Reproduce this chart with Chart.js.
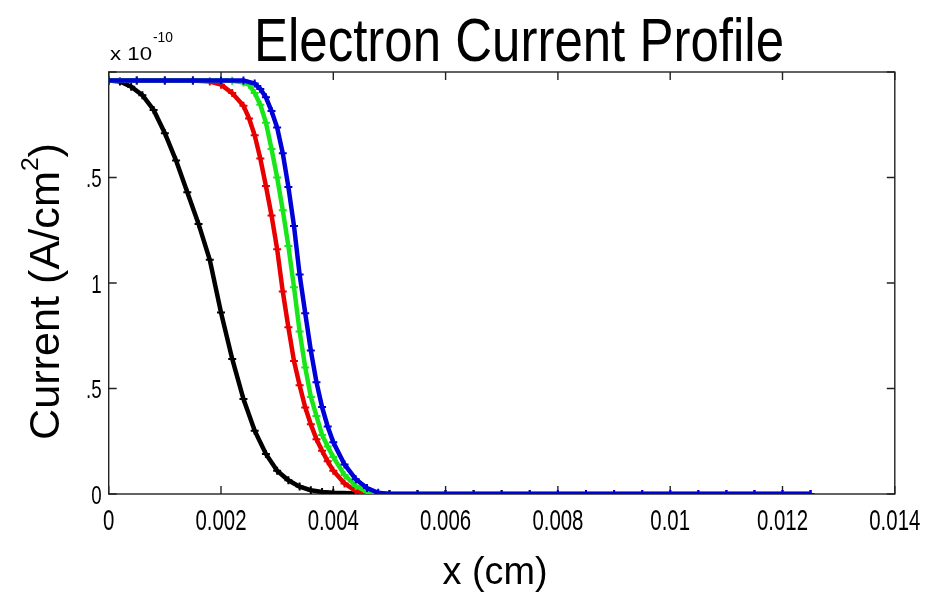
<!DOCTYPE html>
<html>
<head>
<meta charset="utf-8">
<title>Electron Current Profile</title>
<script src="https://cdn.jsdelivr.net/npm/chart.js@4.4.1/dist/chart.umd.min.js"></script>
<style>
html, body { margin:0; padding:0; background:#fff; }
canvas { display:block; }
</style>
</head>
<body>
<canvas id="currentChart" width="932" height="597"></canvas>
<script>

/* DATA (x in cm, current in units of 1e-10 A/cm^2) */

const tailX = [0.005, 0.0055, 0.006, 0.0065, 0.007, 0.0075, 0.008, 0.0085, 0.009, 0.0095, 0.01, 0.0105, 0.011, 0.0115, 0.012, 0.0125];
const tailY = [0, 0, 0, 0, 0, 0, 0, 0, 0, 0, 0, 0, 0, 0, 0, 0];

const blackX = [0, 0.0002, 0.0004, 0.0006, 0.0008, 0.001, 0.0012, 0.0014, 0.0016, 0.0018, 0.002, 0.0022, 0.0024, 0.0026, 0.0028, 0.003, 0.0032, 0.0034, 0.0036, 0.0038, 0.004, 0.0045];
const blackY = [1.96, 1.955, 1.93, 1.89, 1.82, 1.71, 1.58, 1.43, 1.28, 1.11, 0.86, 0.64, 0.45, 0.30, 0.19, 0.11, 0.065, 0.035, 0.018, 0.01, 0.006, 0.002];

const redX = [0, 0.0005, 0.001, 0.0015, 0.0018, 0.002, 0.0022, 0.0024, 0.0025, 0.0026, 0.0027, 0.0028, 0.0029, 0.003, 0.0031, 0.0032, 0.0033, 0.0034, 0.0035, 0.0036, 0.0037, 0.0038, 0.0039, 0.004, 0.0042, 0.0044, 0.0046, 0.0048];
const redY = [1.96, 1.96, 1.96, 1.96, 1.955, 1.94, 1.9, 1.84, 1.78, 1.7, 1.59, 1.46, 1.32, 1.16, 0.96, 0.79, 0.63, 0.515, 0.41, 0.33, 0.26, 0.205, 0.155, 0.11, 0.05, 0.015, 0.003, 0];

const greenX = [0, 0.0005, 0.001, 0.0015, 0.002, 0.0022, 0.0024, 0.0025, 0.0026, 0.0027, 0.0028, 0.0029, 0.003, 0.0031, 0.0032, 0.0033, 0.0034, 0.0035, 0.0036, 0.0037, 0.0038, 0.0039, 0.004, 0.0042, 0.0044, 0.0046, 0.0048];
const greenY = [1.96, 1.96, 1.96, 1.96, 1.96, 1.958, 1.95, 1.94, 1.9, 1.845, 1.76, 1.635, 1.5, 1.345, 1.175, 0.98, 0.77, 0.6, 0.46, 0.37, 0.28, 0.225, 0.175, 0.09, 0.038, 0.01, 0];

const blueX = [0, 0.0005, 0.001, 0.0015, 0.002, 0.0024, 0.0026, 0.0027, 0.0028, 0.0029, 0.003, 0.0031, 0.0032, 0.0033, 0.0034, 0.0035, 0.0036, 0.0037, 0.0038, 0.0039, 0.004, 0.0042, 0.0044, 0.0046, 0.0048];
const blueY = [1.96, 1.96, 1.96, 1.96, 1.96, 1.96, 1.945, 1.92, 1.88, 1.815, 1.737, 1.615, 1.455, 1.27, 1.04, 0.857, 0.68, 0.53, 0.412, 0.32, 0.245, 0.14, 0.07, 0.028, 0.006];

const xTicks = [0, 0.002, 0.004, 0.006, 0.008, 0.01, 0.012, 0.014];
const xTickLabels = ["0", "0.002", "0.004", "0.006", "0.008", "0.01", "0.012", "0.014"];
const yTicks = [0, 0.5, 1, 1.5, 2];
const yTickLabels = ["0", ".5", "1", ".5", ""];

const FONT = '"Liberation Sans", Arial, Helvetica, sans-serif';


function toPoints(xs, ys){
  return xs.map((x, i) => ({ x: x, y: ys[i] }));
}

function series(label, xs, ys, color, order){
  return {
    label: label,
    data: toPoints(xs.concat(tailX), ys.concat(tailY)),
    borderColor: color,
    backgroundColor: color,
    borderWidth: 4.5,
    pointStyle: "cross",
    pointRadius: 4,
    pointBorderWidth: 2,
    pointBorderColor: color,
    tension: 0,
    order: order
  };
}

/* text squeezed horizontally, like the narrow matlab font */
function squeezed(ctx, text, x, y, size, sx, align){
  ctx.save();
  ctx.font = size + "px " + FONT;
  ctx.translate(x, y);
  ctx.scale(sx, 1);
  ctx.textAlign = align;
  ctx.textBaseline = "alphabetic";
  ctx.fillText(text, 0, 0);
  ctx.restore();
}

function fitWidth(ctx, text, size, width){
  ctx.font = size + "px " + FONT;
  return width / ctx.measureText(text).width;
}


/* FRAME, INWARD TICKS AND LABELS */

const matlabAxes = {
  id: "matlabAxes",
  beforeDatasetsDraw(chart){
    const ctx = chart.ctx;
    const a = chart.chartArea;
    const xs = chart.scales.x, ys = chart.scales.y;
    ctx.save();
    ctx.strokeStyle = "#222";
    ctx.lineWidth = 1.4;
    ctx.strokeRect(a.left, a.top, a.right - a.left, a.bottom - a.top);
    ctx.beginPath();
    xTicks.forEach(v => {
      const px = xs.getPixelForValue(v);
      ctx.moveTo(px, a.bottom); ctx.lineTo(px, a.bottom - 8);
      ctx.moveTo(px, a.top); ctx.lineTo(px, a.top + 8);
    });
    yTicks.forEach(v => {
      const py = ys.getPixelForValue(v);
      ctx.moveTo(a.left, py); ctx.lineTo(a.left + 8, py);
      ctx.moveTo(a.right, py); ctx.lineTo(a.right - 8, py);
    });
    ctx.stroke();
    ctx.restore();
  },
  afterDraw(chart){
    const ctx = chart.ctx;
    const a = chart.chartArea;
    const xs = chart.scales.x, ys = chart.scales.y;
    ctx.save();
    ctx.fillStyle = "#000";

    xTicks.forEach((v, i) => {
      squeezed(ctx, xTickLabels[i], xs.getPixelForValue(v), a.bottom + 36, 30, 0.68, "center");
    });
    yTicks.forEach((v, i) => {
      if(yTickLabels[i]) squeezed(ctx, yTickLabels[i], a.left - 7, ys.getPixelForValue(v) + 9.5, 26, 0.72, "right");
    });

    // title
    const title = "Electron Current Profile";
    squeezed(ctx, title, 519, 61, 61, fitWidth(ctx, title, 61, 530), "center");

    // exponent
    squeezed(ctx, "x 10", 110, 60, 19, fitWidth(ctx, "x 10", 19, 42), "left");
    squeezed(ctx, "-10", 153, 42, 14, fitWidth(ctx, "-10", 14, 20), "left");

    // x axis title
    squeezed(ctx, "x (cm)", 495, 584, 39, fitWidth(ctx, "x (cm)", 39, 105), "center");

    // y axis title with superscript
    ctx.save();
    ctx.translate(59, 440);
    ctx.rotate(-Math.PI / 2);
    ctx.font = "42px " + FONT;
    const w1 = ctx.measureText("Current (A/cm").width;
    const w3 = ctx.measureText(")").width;
    ctx.font = "24px " + FONT;
    const w2 = ctx.measureText("2").width;
    const s = 297 / (w1 + w2 + w3);
    ctx.scale(s, 1);
    ctx.textAlign = "left";
    ctx.font = "42px " + FONT;
    ctx.fillText("Current (A/cm", 0, 0);
    ctx.font = "24px " + FONT;
    ctx.fillText("2", w1, -21);
    ctx.font = "42px " + FONT;
    ctx.fillText(")", w1 + w2, 0);
    ctx.restore();

    ctx.restore();
  }
};


/* CHART */

new Chart(document.getElementById("currentChart"), {
  type: "line",
  data: {
    datasets: [
      series("Black", blackX, blackY, "#000000", 3),
      series("Red", redX, redY, "#e80000", 2),
      series("Green", greenX, greenY, "#19e619", 1),
      series("Blue", blueX, blueY, "#0000d8", 0)
    ]
  },
  options: {
    responsive: false,
    maintainAspectRatio: false,
    animation: false,
    layout: { padding: { top: 72, right: 37.2, left: 0, bottom: 0 } },
    plugins: {
      legend: { display: false },
      tooltip: { enabled: false },
      title: { display: false }
    },
    scales: {
      x: {
        type: "linear",
        min: 0,
        max: 0.014,
        ticks: { display: false },
        grid: { display: false },
        border: { display: false },
        afterFit: s => { s.height = 103; }
      },
      y: {
        type: "linear",
        min: 0,
        max: 2,
        ticks: { display: false },
        grid: { display: false },
        border: { display: false },
        afterFit: s => { s.width = 108.7; }
      }
    }
  },
  plugins: [matlabAxes]
});

</script>
</body>
</html>
